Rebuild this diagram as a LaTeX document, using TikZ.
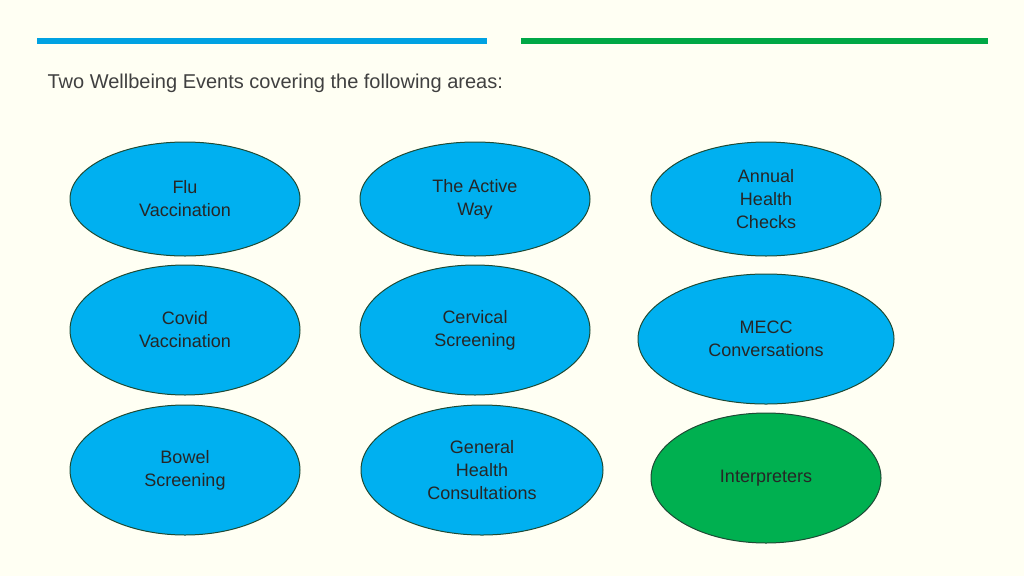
\documentclass[tikz,border=0pt]{standalone}
\usepackage{fontspec}
\setmainfont{Liberation Sans}
\usetikzlibrary{shapes.geometric}
\definecolor{bgcream}{HTML}{FFFFF3}
\definecolor{barblue}{HTML}{00A2E2}
\definecolor{bargreen}{HTML}{00A846}
\definecolor{ovalblue}{HTML}{00B0F0}
\definecolor{ovalgreen}{HTML}{00B050}
\definecolor{ovalline}{HTML}{1E4A34}
\definecolor{titlegray}{HTML}{404040}
\tikzset{
  topic/.style={ellipse, draw=ovalline, line width=1pt, fill=ovalblue, align=center,
    inner sep=0pt, minimum width=230pt, minimum height=114pt,
    font=\fontsize{18}{23}\selectfont, text=black!85},
  tall/.style={minimum height=130pt},
}
\begin{document}
\begin{tikzpicture}[x=1pt, y=-1pt]
\fill[bgcream] (0,0) rectangle (1024,576);
\useasboundingbox (0,0) rectangle (1024,576);
\draw[barblue, line width=6pt] (37,41) -- (487,41);
\draw[bargreen, line width=6pt] (521,41) -- (988,41);
%Text
\node[anchor=west, text=titlegray, font=\fontsize{20}{24}\selectfont] (title) at (44,83) {Two Wellbeing Events covering the following areas:};
%Ovals
\node[topic] (flu) at (185,199) {Flu\\Vaccination};
\node[topic] (active) at (475,199) {The Active\\Way};
\node[topic] (annual) at (766,199) {Annual\\Health\\Checks};
\node[topic, tall] (covid) at (185,330) {Covid\\Vaccination};
\node[topic, tall] (cervical) at (475,330) {Cervical\\Screening};
\node[topic, tall, minimum width=256pt] (mecc) at (766,339) {MECC\\Conversations};
\node[topic, tall] (bowel) at (185,470) {Bowel\\Screening};
\node[topic, tall, minimum width=242pt] (general) at (482,470) {General\\Health\\Consultations};
\node[topic, tall, fill=ovalgreen] (interp) at (766,478) {Interpreters};
\end{tikzpicture}
\end{document}
